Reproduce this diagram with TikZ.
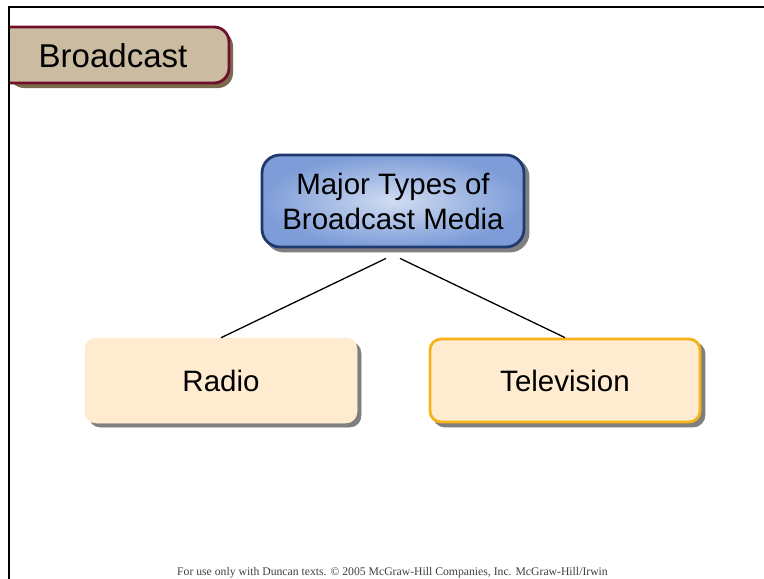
\documentclass[tikz,border=0pt]{standalone}
\usepackage{fontspec}
\setmainfont{Liberation Sans}
\newfontfamily\footfont{Liberation Serif}
\usetikzlibrary{shadows,calc}

\definecolor{tanfill}{HTML}{CBBBA0}
\definecolor{maroon}{HTML}{6E0F2C}
\definecolor{tanshadow}{HTML}{7C6A4C}
\definecolor{navy}{HTML}{1F3A6E}
\definecolor{blueouter}{HTML}{7E9DD8}
\definecolor{blueinner}{HTML}{D0DCF2}
\definecolor{peach}{HTML}{FEEBD0}
\definecolor{amber}{HTML}{F7B21C}
\definecolor{boxshadow}{HTML}{7F7F7F}

\tikzset{
  bigtext/.style={font=\fontsize{29.5}{35}\selectfont},
  dropshadow/.style={copy shadow={shadow xshift=4pt, shadow yshift=-4pt, fill=boxshadow, draw=boxshadow}},
  rootbox/.style={bigtext, rounded corners=18pt, draw=navy, line width=2.8pt,
    inner color=blueinner, outer color=blueouter, dropshadow,
    minimum width=262pt, minimum height=92pt, align=center, inner sep=0pt},
  leafbox/.style={bigtext, rounded corners=11pt, fill=peach,
    dropshadow, inner sep=0pt},
  link/.style={line width=1.3pt, black},
  frame/.style={line width=2pt, black},
}

\begin{document}
\begin{tikzpicture}[x=1pt, y=-1pt]
  \useasboundingbox (0,0) rectangle (764,579);
  \fill[white] (0,0) rectangle (764,579);

  % title tab with its shadow
  \fill[tanshadow, rounded corners=15pt] (9,31) -- (233,31) -- (233,88) -- (9,88) -- cycle;
  \filldraw[fill=tanfill, draw=maroon, line width=2.8pt, rounded corners=15pt]
    (9,27) -- (229,27) -- (229,83) -- (9,83);
  \node[bigtext, font=\fontsize{33}{38}\selectfont] (title) at (113,56) {Broadcast};

  % slide frame
  \draw[frame] (764,7) -- (9,7) -- (9,579);

  % hierarchy
  \node[rootbox] (root) at (393,201) {Major Types of\\Broadcast Media};
  \node[leafbox, draw=peach, line width=0.5pt, minimum width=272pt, minimum height=85pt]
    (radio) at (221,380.5) {Radio};
  \node[leafbox, draw=amber, line width=2.8pt, minimum width=270pt, minimum height=83pt]
    (tv) at (565,380.5) {Television};

  \coordinate (forkL) at ($(root.south)+(-7,10)$);
  \coordinate (forkR) at ($(root.south)+(7,10)$);
  \draw[link] (forkL) -- (radio.north);
  \draw[link] (forkR) -- (tv.north);

  \node[font=\footfont\fontsize{11.7}{13}\selectfont, text=black!75] (foot) at (392.5,572.5)
    {For use only with Duncan texts. © 2005 McGraw-Hill Companies, Inc. McGraw-Hill/Irwin};
\end{tikzpicture}
\end{document}
